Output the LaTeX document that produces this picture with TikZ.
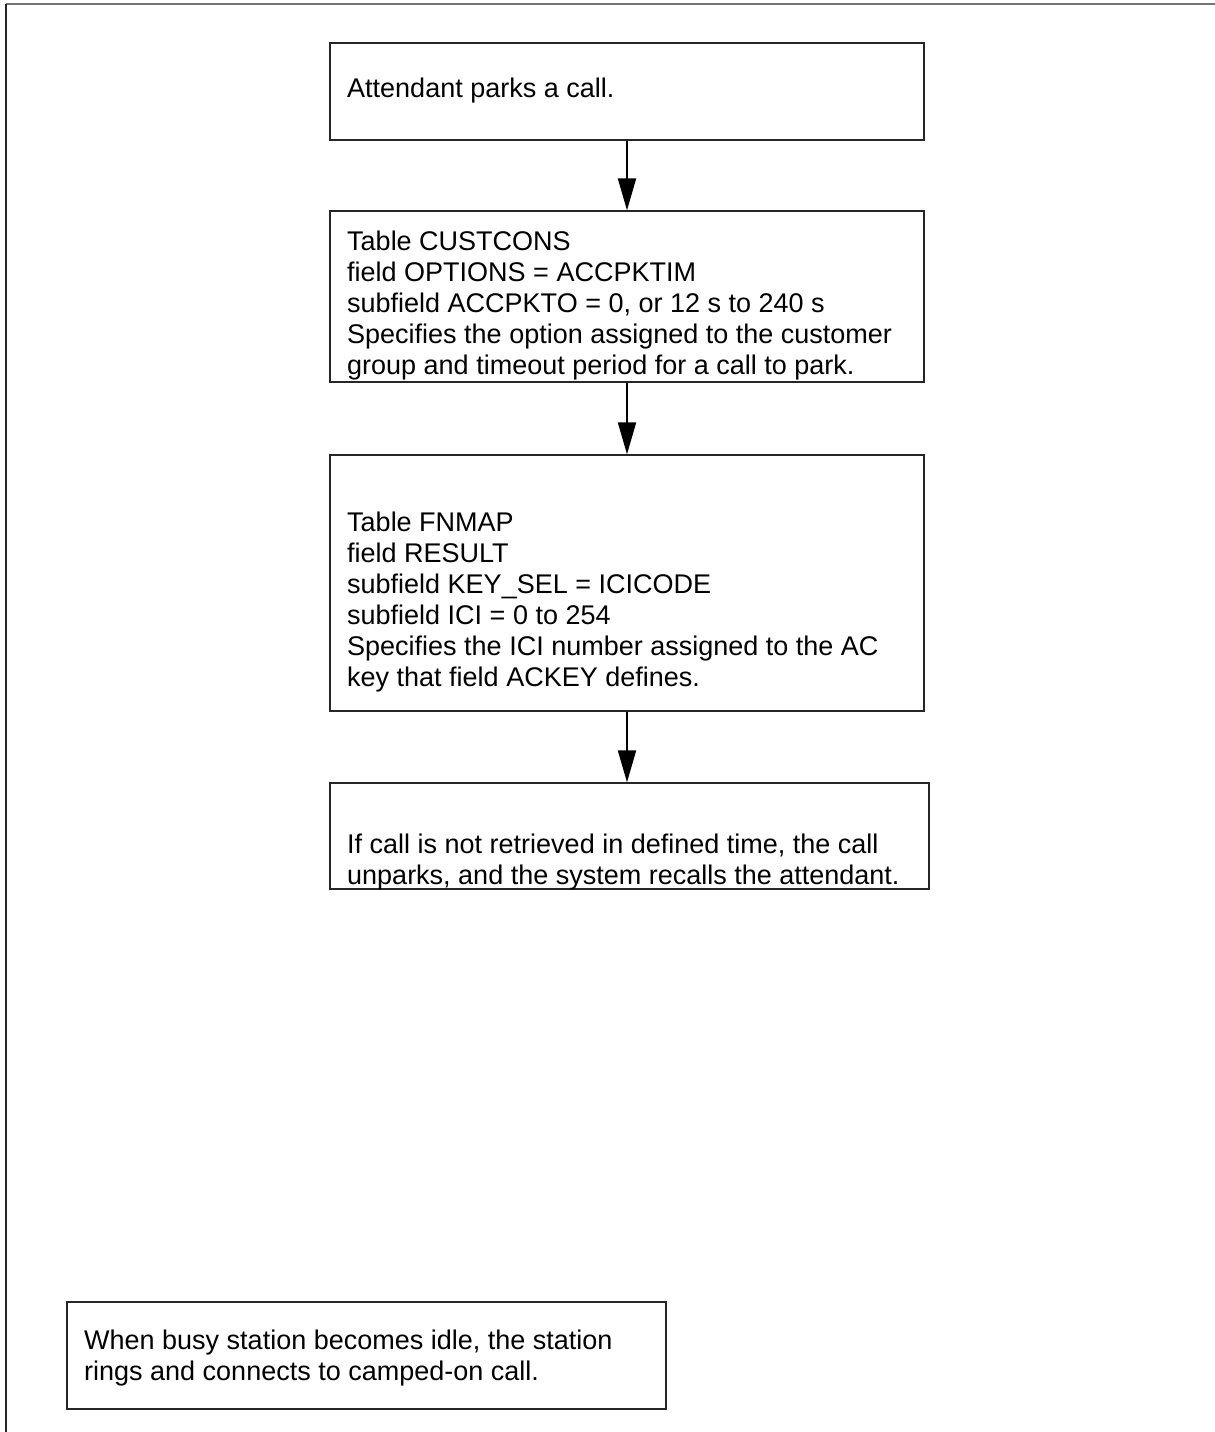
\documentclass[tikz,border=0pt]{standalone}
\usepackage{fontspec}
\setmainfont{Liberation Sans}
\usetikzlibrary{arrows.meta}
\begin{document}
\begin{tikzpicture}[x=1pt,y=-1pt,
  box/.style={draw=black!85, line width=1.3pt, rectangle, inner sep=0pt},
  txt/.style={anchor=north west, inner sep=0pt, align=left,
    font=\fontsize{27}{31}\selectfont},
  arr/.style={line width=2pt, -{Triangle[width=18pt,length=32pt]}}]
\useasboundingbox (0,0) rectangle (1215,1432);
% page frame
\draw[black!55, line width=2pt] (6,4) -- (1215,4);
\draw[black!85, line width=2pt] (6,4) -- (6,1432);
% flow boxes
\node[box, minimum width=594pt, minimum height=97pt] (b1) at (627,91.5) {};
\node[box, minimum width=594pt, minimum height=171pt] (b2) at (627,296.5) {};
\node[box, minimum width=594pt, minimum height=256pt] (b3) at (627,583) {};
\node[box, minimum width=599pt, minimum height=106pt] (b4) at (629.5,836) {};
\node[box, minimum width=599pt, minimum height=107pt] (b5) at (366.5,1355.5) {};
% box texts
\node[txt] (t1) at (347,78) {Attendant parks a call.};
\node[txt] (t2) at (347,230.5) {Table CUSTCONS\\field OPTIONS = ACCPKTIM\\subfield ACCPKTO = 0, or 12 s to 240 s\\Specifies the option assigned to the customer\\group and timeout period for a call to park.};
\node[txt] (t3) at (347,511.5) {Table FNMAP\\field RESULT\\subfield KEY\_SEL = ICICODE\\subfield ICI = 0 to 254\\Specifies the ICI number assigned to the AC\\key that field ACKEY defines.};
\node[txt] (t4) at (347,833.5) {If call is not retrieved in defined time, the call\\unparks, and the system recalls the attendant.};
\node[txt] (t5) at (84,1329.5) {When busy station becomes idle, the station\\rings and connects to camped-on call.};
% connectors
\draw[arr] (b1.south) -- (b2.north);
\draw[arr] (b2.south) -- (b3.north);
\draw[arr] (b3.south) -- (b4.north -| b3.south);
\end{tikzpicture}
\end{document}
